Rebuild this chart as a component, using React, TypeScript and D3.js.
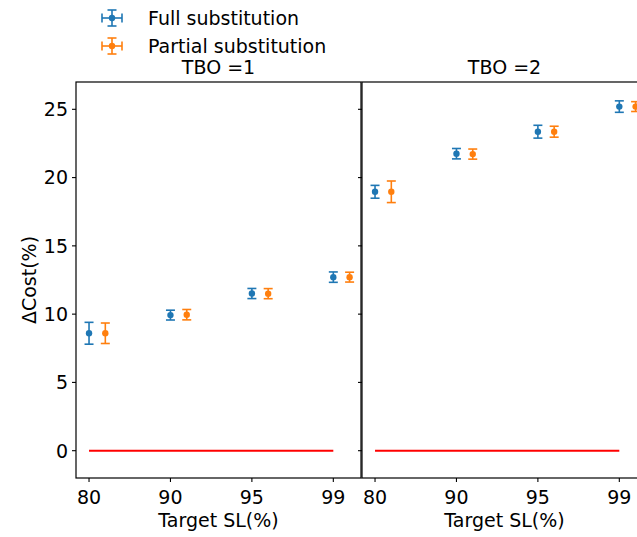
import React from "react";
import * as d3 from "d3";

const targetSL = ["80", "90", "95", "99"];
const panels = ["TBO =1", "TBO =2"];
const seriesNames = ["Full substitution", "Partial substitution"];
const seriesColors = ["#1f77b4", "#ff7f0e"];

// mean / error for each panel, each series
const fullTBO1 = [8.6, 9.93, 11.51, 12.71];
const fullTBO1Err = [0.8, 0.36, 0.37, 0.38];
const partialTBO1 = [8.6, 9.96, 11.5, 12.71];
const partialTBO1Err = [0.75, 0.38, 0.37, 0.36];
const fullTBO2 = [18.96, 21.75, 23.36, 25.2];
const fullTBO2Err = [0.47, 0.38, 0.47, 0.42];
const partialTBO2 = [18.96, 21.72, 23.36, 25.2];
const partialTBO2Err = [0.79, 0.37, 0.4, 0.36];
const baseline = [0, 0, 0, 0];
const yTicks = [0, 5, 10, 15, 20, 25];

const W = 637;
const H = 537;
const FONT = "DejaVu Sans, sans-serif";
const FS = 19;
const top = 82;
const bottom = 478;
const panelX = [
  [76, 361],
  [362, 647],
];

export default function App() {
  const y = d3.scaleLinear().domain([-2, 27]).range([bottom, top]);
  const data = [
    [
      { v: fullTBO1, e: fullTBO1Err },
      { v: partialTBO1, e: partialTBO1Err },
    ],
    [
      { v: fullTBO2, e: fullTBO2Err },
      { v: partialTBO2, e: partialTBO2Err },
    ],
  ];
  const offsets = [0, 0.2];
  const capHalf = 4.5;

  return (
    <svg width={W} height={H} style={{ position: "absolute", left: 0, top: 0 }} fontFamily={FONT}>
      <rect x={0} y={0} width={W} height={H} fill="#fff" />
      {panels.map((title, p) => {
        const [x0, x1] = panelX[p];
        const x = d3.scaleLinear().domain([-0.16, 3.34]).range([x0, x1]);
        const line = d3
          .line<number>()
          .x((_, i) => x(i))
          .y((d) => y(d));
        return (
          <g key={p}>
            <path d={line(baseline) || ""} stroke="#ff0000" strokeWidth={2} fill="none" />
            {data[p].map((s, si) => (
              <g key={si}>
                {s.v.map((v, i) => {
                  const cx = x(i + offsets[si]);
                  const yt = y(v + s.e[i]);
                  const yb = y(v - s.e[i]);
                  const c = seriesColors[si];
                  return (
                    <g key={i}>
                      <line x1={cx} x2={cx} y1={yt} y2={yb} stroke={c} strokeWidth={1.6} />
                      <line x1={cx - capHalf} x2={cx + capHalf} y1={yt} y2={yt} stroke={c} strokeWidth={1.6} />
                      <line x1={cx - capHalf} x2={cx + capHalf} y1={yb} y2={yb} stroke={c} strokeWidth={1.6} />
                      <circle cx={cx} cy={y(v)} r={3.2} fill={c} />
                    </g>
                  );
                })}
              </g>
            ))}
            <rect x={x0} y={top} width={x1 - x0} height={bottom - top} fill="none" stroke="#000" strokeWidth={1.2} />
            {yTicks.map((t) => (
              <g key={t}>
                <line x1={x0 - 4} x2={x0} y1={y(t)} y2={y(t)} stroke="#000" strokeWidth={1.1} />
                {p === 0 && (
                  <text x={x0 - 8} y={y(t)} dy="0.36em" textAnchor="end" fontSize={FS} fill="#000">
                    {t}
                  </text>
                )}
              </g>
            ))}
            {targetSL.map((lab, i) => (
              <g key={lab}>
                <line x1={x(i)} x2={x(i)} y1={bottom} y2={bottom + 4} stroke="#000" strokeWidth={1.1} />
                <text x={x(i)} y={bottom + 26} textAnchor="middle" fontSize={FS} fill="#000">
                  {lab}
                </text>
              </g>
            ))}
            <text x={(x0 + x1) / 2} y={bottom + 49} textAnchor="middle" fontSize={FS} fill="#000">
              Target SL(%)
            </text>
            <text x={(x0 + x1) / 2} y={top - 8} textAnchor="middle" fontSize={FS} fill="#000">
              {title}
            </text>
          </g>
        );
      })}
      <text
        transform={`translate(36,${(top + bottom) / 2}) rotate(-90)`}
        textAnchor="middle"
        fontSize={FS}
        fill="#000"
      >
        ΔCost(%)
      </text>
      {seriesNames.map((name, i) => {
        const cy = 18 + i * 28;
        const cx = 112;
        const c = seriesColors[i];
        return (
          <g key={name}>
            <line x1={cx - 10} x2={cx + 10} y1={cy} y2={cy} stroke={c} strokeWidth={1.6} />
            <line x1={cx - 10} x2={cx - 10} y1={cy - 4.5} y2={cy + 4.5} stroke={c} strokeWidth={1.6} />
            <line x1={cx + 10} x2={cx + 10} y1={cy - 4.5} y2={cy + 4.5} stroke={c} strokeWidth={1.6} />
            <line x1={cx} x2={cx} y1={cy - 8} y2={cy + 8} stroke={c} strokeWidth={1.6} />
            <line x1={cx - 4.5} x2={cx + 4.5} y1={cy - 8} y2={cy - 8} stroke={c} strokeWidth={1.6} />
            <line x1={cx - 4.5} x2={cx + 4.5} y1={cy + 8} y2={cy + 8} stroke={c} strokeWidth={1.6} />
            <circle cx={cx} cy={cy} r={3.2} fill={c} />
            <text x={148} y={cy} dy="0.36em" fontSize={FS} fill="#000">
              {name}
            </text>
          </g>
        );
      })}
    </svg>
  );
}
